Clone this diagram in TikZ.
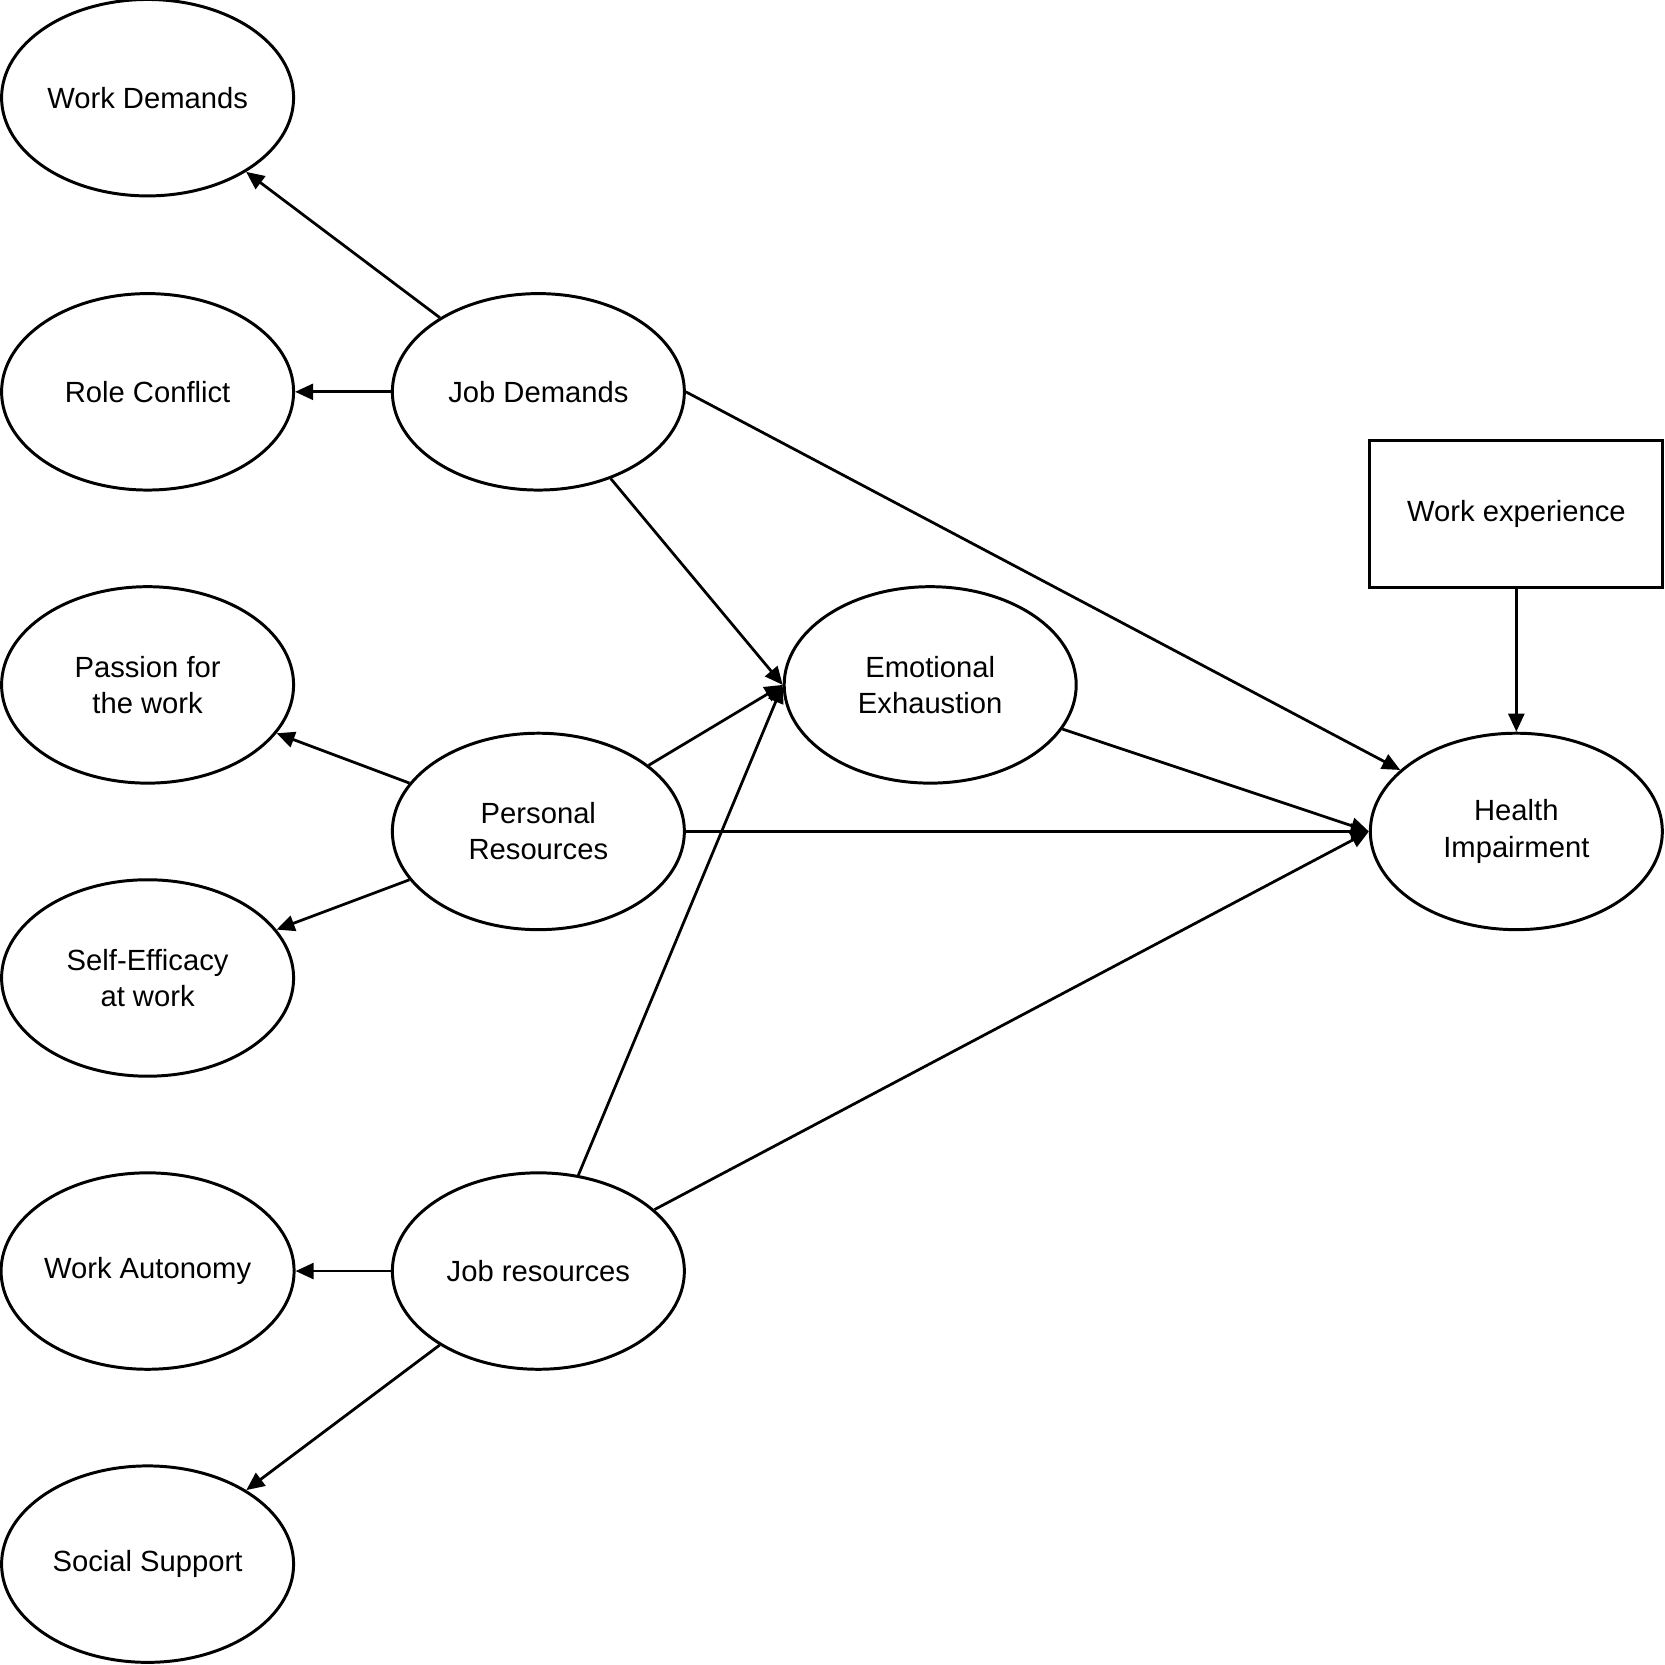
\documentclass[tikz,border=0pt]{standalone}
\usepackage{fontspec}
\setmainfont{Liberation Sans}
\usetikzlibrary{shapes.geometric,arrows.meta}
\begin{document}
\begin{tikzpicture}[x=1pt,y=-1pt,
  ell/.style={draw,ellipse,line width=2.8pt,minimum width=275pt,minimum height=185pt,inner sep=0pt,align=center,font=\fontsize{27.5}{34}\selectfont},
  boxn/.style={draw,rectangle,line width=2.8pt,minimum width=276pt,minimum height=138pt,inner sep=0pt,align=center,font=\fontsize{27.5}{34}\selectfont},
  arr/.style={line width=2.6pt,-{Triangle[length=17pt,width=15pt]}}]
\useasboundingbox (0,0) rectangle (1568,1568);
\node[ell] (wd) at (139,92) {Work Demands};
\node[ell] (rc) at (139,369) {Role Conflict};
\node[ell] (pf) at (139,645) {Passion for\\the work};
\node[ell] (se) at (139,921) {Self-Efficacy\\at work};
\node[ell] (wa) at (139,1197) {Work Autonomy};
\node[ell] (ss) at (139,1473) {Social Support};
\node[ell] (jd) at (507,369) {Job Demands};
\node[ell] (pr) at (507,783) {Personal\\Resources};
\node[ell] (jr) at (507,1197) {Job resources};
\node[ell] (ee) at (876,645) {Emotional\\Exhaustion};
\node[ell] (hi) at (1428,783) {Health\\Impairment};
\node[boxn] (we) at (1428,484) {Work experience};
\draw[arr] (jd) -- (wd);
\draw[arr] (jd) -- (rc);
\draw[arr] (jd) -- (ee.west);
\draw[arr] (jd.east) -- (hi);
\draw[arr] (pr) -- (pf);
\draw[arr] (pr) -- (se);
\draw[arr] (pr) -- (ee.west);
\draw[arr] (pr) -- (hi.west);
\draw[arr] (ee) -- (hi.west);
\draw[arr] (jr) -- (ee.west);
\draw[arr] (jr) -- (hi.west);
\draw[arr] (jr) -- (wa);
\draw[arr] (jr) -- (ss);
\draw[arr] (we) -- (hi);
\end{tikzpicture}
\end{document}
